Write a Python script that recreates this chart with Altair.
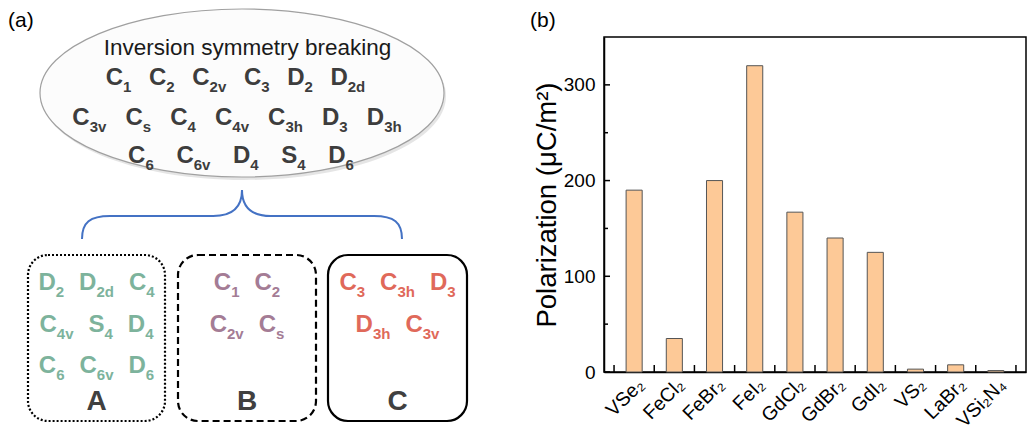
import json
import altair as alt
import pandas as pd

# ------------------------------------------------------------------ data
# panel (b): bar chart
materials = ["VSe₂", "FeCl₂", "FeBr₂", "FeI₂", "GdCl₂", "GdBr₂", "GdI₂", "VS₂", "LaBr₂", "VSi₂N₄"]
polarization = [190, 35, 200, 320, 167, 140, 125, 3, 7.5, 1.5]
y_major = [0, 100, 200, 300]
y_minor = [50, 150, 250]
y_title = "Polarization (μC/m²)"

# panel (a): point groups
ellipse_title = "Inversion symmetry breaking"
ellipse_rows = [
    ["C_1", "C_2", "C_2v", "C_3", "D_2", "D_2d"],
    ["C_3v", "C_s", "C_4", "C_4v", "C_3h", "D_3", "D_3h"],
    ["C_6", "C_6v", "D_4", "S_4", "D_6"],
]
group_names = ["A", "B", "C"]
group_rows = [
    [["D_2", "D_2d", "C_4"], ["C_4v", "S_4", "D_4"], ["C_6", "C_6v", "D_6"]],
    [["C_1", "C_2"], ["C_2v", "C_s"]],
    [["C_3", "C_3h", "D_3"], ["D_3h", "C_3v"]],
]
panel_labels = ["(a)", "(b)"]

# ------------------------------------------------------------------ layout / style
FONT = "Liberation Sans"
W, H = 422, 335
PAD = dict(left=596, top=29, right=2, bottom=59)
OX = 8 + PAD["left"]          # page x of plot origin
OY = 8 + PAD["top"]           # page y of plot top
n = len(materials)
XDOM = [0.25, n + 0.75]
YDOM = [0, 350]
SX = W / (XDOM[1] - XDOM[0])
SY = H / (YDOM[1] - YDOM[0])


def fx(px):   # page pixel -> x data unit (through the shared linear scale)
    return XDOM[0] + (px - OX) / SX


def fy(py):   # page pixel -> y data unit
    return YDOM[0] + (OY + H - py) / SY


XS = alt.Scale(domain=XDOM, nice=False, zero=False)
YS = alt.Scale(domain=YDOM, nice=False, zero=False)

ELL = dict(cx=242, cy=93, rx=202, ry=84)
BRACE = dict(cx=242, cy=216, half=160)
BOX_X = [(28, 165), (178, 316), (328, 467)]
BOX_Y = (255, 421)
BOX_DASH = [[2, 2], [7, 4], None]
BOX_COLORS = ["#7db39c", "#a47c95", "#e0695a"]
ELL_ROW_BASE = [85, 125, 163]
ELL_ROW_CX = [235.5, 237, 241]
ELL_ROW_GAP = [17.6, 19.1, 22.6]
BOX_ROW_BASE = [290, 332, 373]
BOX_GAP = 15
BOX_LABEL_BASE = 410
BASE_FS, SUB_FS, SUB_DY = 24, 15, 7
BOLD_W = {"C": 0.722, "D": 0.722, "S": 0.667}
SUB_W = {"1": .556, "2": .556, "3": .556, "4": .556, "6": .556,
         "v": .556, "d": .611, "h": .611, "s": .556}


def tok_width(t):
    base, sub = t.split("_")
    return BASE_FS * BOLD_W[base] + SUB_FS * sum(SUB_W[c] for c in sub)


def layout_row(tokens, cx, baseline, gap, color, out):
    widths = [tok_width(t) for t in tokens]
    total = sum(widths) + gap * (len(tokens) - 1)
    x = cx - total / 2
    for t, w in zip(tokens, widths):
        base, sub = t.split("_")
        out.append(dict(x=fx(x), y=fy(baseline), text=base, fs=BASE_FS, color=color))
        out.append(dict(x=fx(x + BASE_FS * BOLD_W[base]), y=fy(baseline + SUB_DY),
                        text=sub, fs=SUB_FS, color=color))
        x += w + gap


tokens = []
for row, b, cx, g in zip(ellipse_rows, ELL_ROW_BASE, ELL_ROW_CX, ELL_ROW_GAP):
    layout_row(row, cx, b, g, "#3d3d3d", tokens)
for rows, (x0, x1), col in zip(group_rows, BOX_X, BOX_COLORS):
    for row, b in zip(rows, BOX_ROW_BASE):
        layout_row(row, (x0 + x1) / 2, b, BOX_GAP, col, tokens)
tok_df = pd.DataFrame(tokens)


def dxy():
    # no axis spec here: the shared axes are defined once, on the bar layer
    return dict(x=alt.X("x:Q", scale=XS), y=alt.Y("y:Q", scale=YS))


def pt(px, py):
    return pd.DataFrame({"x": [fx(px)], "y": [fy(py)]})


# ellipse as custom symbol
e = ELL["ry"] / ELL["rx"]
k = 0.5523
ell_path = (f"M-1,0 C-1,{-k*e:.4f} {-k:.4f},{-e:.4f} 0,{-e:.4f} "
            f"C{k:.4f},{-e:.4f} 1,{-k*e:.4f} 1,0 "
            f"C1,{k*e:.4f} {k:.4f},{e:.4f} 0,{e:.4f} "
            f"C{-k:.4f},{e:.4f} -1,{k*e:.4f} -1,0 Z")
ell_shadow = alt.Chart(pt(ELL["cx"] + 2, ELL["cy"] + 3)).mark_point(
    shape=ell_path, size=(2 * ELL["rx"]) ** 2, filled=True, fill="#dedede", strokeWidth=0, opacity=0.8
).encode(**dxy())
ellipse = alt.Chart(pt(ELL["cx"], ELL["cy"])).mark_point(
    shape=ell_path, size=(2 * ELL["rx"]) ** 2, filled=True, fill="#fcfcfc",
    stroke="#a0a0a0", strokeWidth=1.2, opacity=1
).encode(**dxy())

title_df = pt(247.5, 55).assign(t=[ellipse_title])
ell_title = alt.Chart(title_df).mark_text(
    font=FONT, fontSize=22.5, color="#1a1a1a", align="center", baseline="alphabetic"
).encode(text="t:N", **dxy())

tok_layer = alt.Chart(tok_df).mark_text(
    font=FONT, fontWeight="bold", align="left", baseline="alphabetic"
).encode(text="text:N", size=alt.Size("fs:Q", scale=None),
         color=alt.Color("color:N", scale=None), **dxy())

brace_path = ("M-1,0.144 C-1,0.04 -0.95,0 -0.825,0 L-0.18,0 C-0.06,0 0,-0.05 0,-0.1625 "
              "C0,-0.05 0.06,0 0.18,0 L0.825,0 C0.95,0 1,0.04 1,0.144")
brace = alt.Chart(pt(BRACE["cx"], BRACE["cy"])).mark_point(
    shape=brace_path, size=(2 * BRACE["half"]) ** 2, filled=False,
    stroke="#4472c4", strokeWidth=2, opacity=1
).encode(**dxy())

boxes = []
for (x0, x1), dash in zip(BOX_X, BOX_DASH):
    bdf = pd.DataFrame({"x": [fx(x0)], "x2": [fx(x1)], "y": [fy(BOX_Y[0])], "y2": [fy(BOX_Y[1])]})
    kw = dict(cornerRadius=20, fill="white", stroke="black", strokeWidth=2.2)
    if dash:
        kw["strokeDash"] = dash
    boxes.append(alt.Chart(bdf).mark_rect(**kw).encode(
        x=alt.X("x:Q", scale=XS), x2="x2:Q",
        y=alt.Y("y:Q", scale=YS), y2="y2:Q"))

lab_df = pd.DataFrame({"x": [fx((a + b) / 2) for a, b in BOX_X],
                       "y": [fy(BOX_LABEL_BASE)] * 3, "t": group_names})
box_labels = alt.Chart(lab_df).mark_text(
    font=FONT, fontWeight="bold", fontSize=28, color="#404040", align="center", baseline="alphabetic"
).encode(text="t:N", **dxy())

pl_df = pd.DataFrame({"x": [fx(8), fx(530)], "y": [fy(27), fy(27)], "t": panel_labels})
pan_labels = alt.Chart(pl_df).mark_text(
    font=FONT, fontSize=21, color="black", align="left", baseline="alphabetic"
).encode(text="t:N", **dxy())

# ------------------------------------------------------------------ panel (b)
bars_df = pd.DataFrame({"material": materials, "P": polarization, "pos": list(range(1, n + 1))})
label_expr = json.dumps(materials, ensure_ascii=False) + "[datum.value - 1]"

bars = alt.Chart(bars_df).transform_calculate(
    x0="datum.pos - 0.2", x1="datum.pos + 0.2", base="0"
).mark_bar(fill="#fdc997", stroke="#555555", strokeWidth=1).encode(
    x=alt.X("x0:Q", scale=XS, axis=alt.Axis(
        values=list(range(1, n + 1)), labelExpr=label_expr, labelAngle=-45,
        labelAlign="right", labelBaseline="top", labelPadding=3, labelFontSize=19.5,
        labelOverlap=False, labelBound=False, labelFlush=False,
        ticks=False, grid=False, title=None, domainColor="black", domainWidth=1.5)),
    x2="x1:Q",
    y=alt.Y("P:Q", scale=YS, axis=alt.Axis(
        values=y_major, ticks=False, grid=False, title=y_title, titleFontSize=27.5,
        titleFontWeight="normal", titlePadding=2, labelFontSize=19, labelPadding=9,
        labelOverlap=False, domainColor="black", domainWidth=1.5)),
    y2="base:Q",
)

bounds = [i + 0.5 for i in range(n + 1)]
xticks = alt.Chart(pd.DataFrame({"b": bounds})).mark_rule(color="black", strokeWidth=1.5).encode(
    x=alt.X("b:Q", scale=XS), y=alt.value(H), y2=alt.value(H - 7))
ymaj = alt.Chart(pd.DataFrame({"v": y_major})).mark_rule(color="black", strokeWidth=1.5).encode(
    y=alt.Y("v:Q", scale=YS), x=alt.value(0), x2=alt.value(6))
ymin = alt.Chart(pd.DataFrame({"v": y_minor})).mark_rule(color="black", strokeWidth=1.5).encode(
    y=alt.Y("v:Q", scale=YS), x=alt.value(0), x2=alt.value(4))

chart = alt.layer(
    bars, ell_shadow, ellipse, ell_title, brace, *boxes, tok_layer, box_labels, pan_labels,
    xticks, ymaj, ymin
).properties(
    width=W, height=H, padding=PAD, autosize=alt.AutoSizeParams(type="none")
).configure_view(stroke="black", strokeWidth=1.5).configure_axis(
    labelFont=FONT, titleFont=FONT, labelColor="black", titleColor="black"
)

chart.save("out.html", embed_options={"renderer": "svg", "actions": False})
